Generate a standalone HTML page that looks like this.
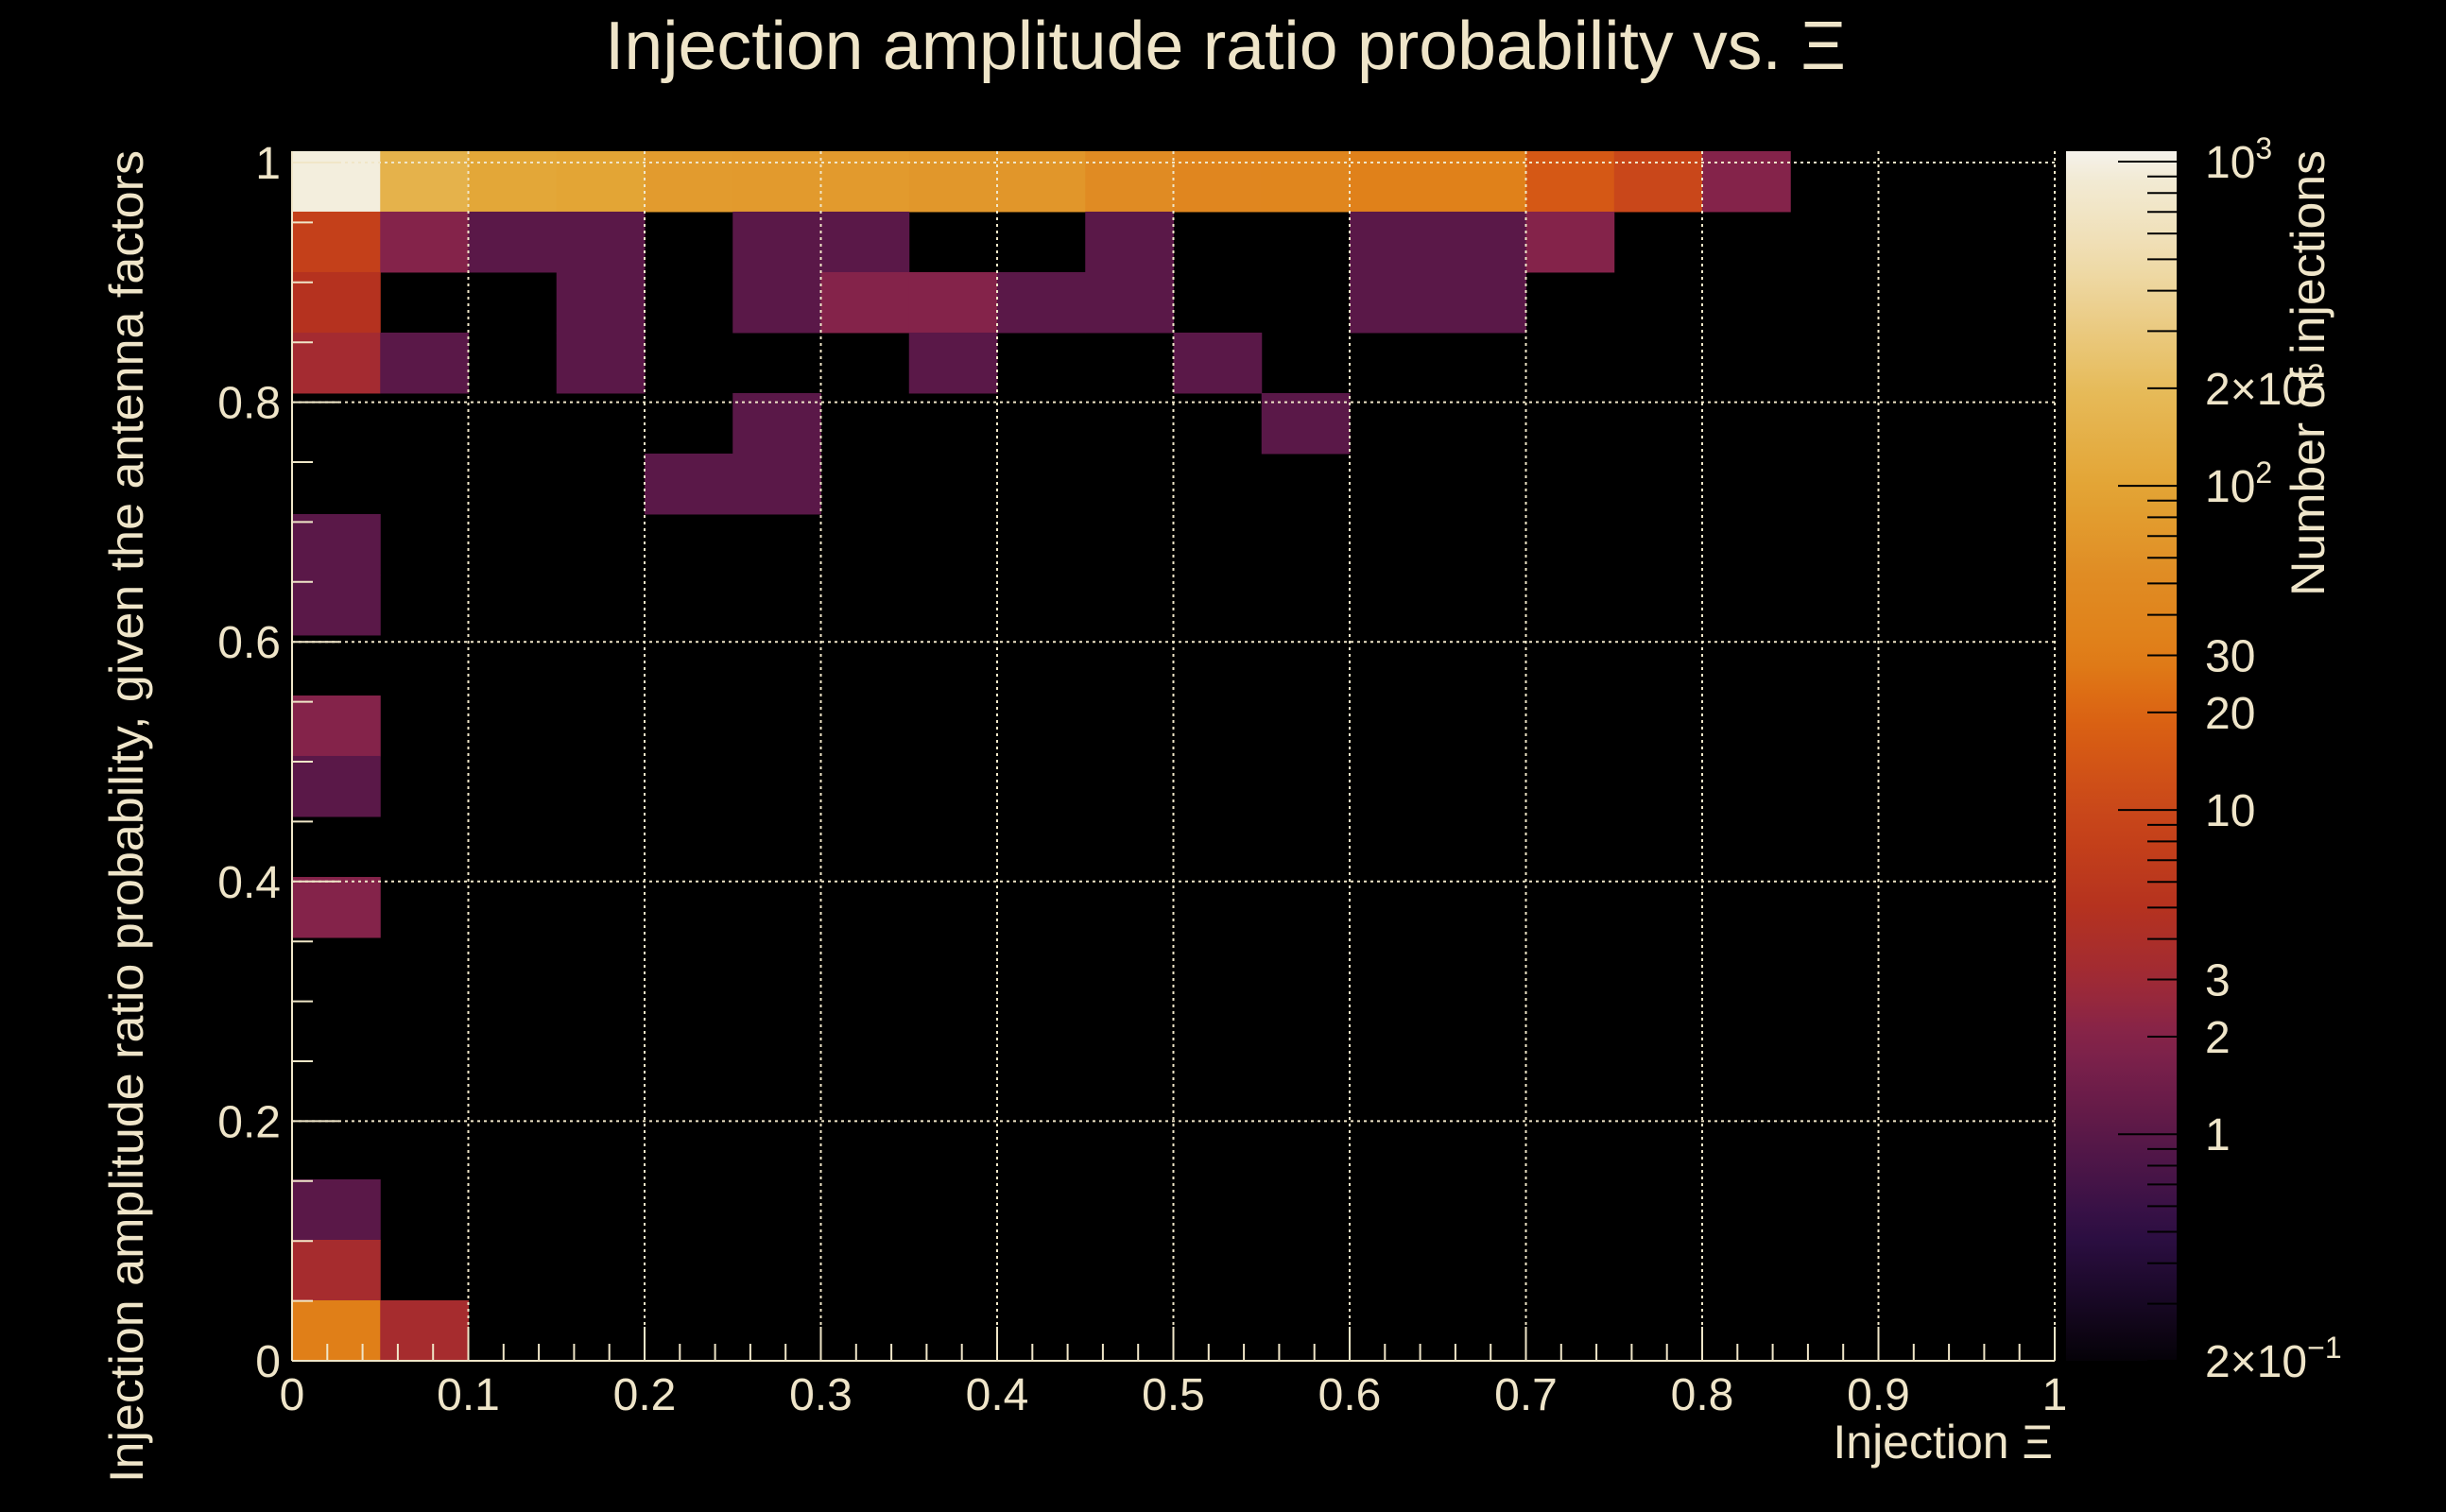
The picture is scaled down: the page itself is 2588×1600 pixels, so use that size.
<!DOCTYPE html>
<html><head><meta charset="utf-8"><style>
html,body{margin:0;padding:0;background:#000;}
svg{display:block;}
text{font-family:"Liberation Sans",sans-serif;fill:#efe5c9;}
</style></head><body>
<svg id="chart" width="2588" height="1600" viewBox="0 0 2588 1600" xmlns="http://www.w3.org/2000/svg">
<rect width="2588" height="1600" fill="#000"/>
<text x="640" y="73" font-size="72" textLength="1313" lengthAdjust="spacingAndGlyphs">Injection amplitude ratio probability vs.  Ξ</text>
<g id="cells"></g>
<g id="grid"></g>
<g id="axes"></g>
<g id="cbar"></g>
<text x="2172" y="1543" font-size="50" text-anchor="end">Injection Ξ</text>
<text transform="translate(151,159) rotate(-90)" font-size="50" text-anchor="end" textLength="1410" lengthAdjust="spacingAndGlyphs">Injection amplitude ratio probability, given the antenna factors</text>
<text transform="translate(2459,159) rotate(-90)" font-size="50" text-anchor="end" textLength="472" lengthAdjust="spacingAndGlyphs">Number of injections</text>
</svg>
<script>
// ---- data ----
const xBinCount = 20;
const yBinCount = 20;
// cells: [xBin, yBin, count]
const cellX = [0,1,2,3,4,5,6,7,8,9,10,11,12,13,14,15,16,
  0,1,2,3,5,6,9,12,13,14,
  0,3,5,6,7,8,9,12,13,
  0,1,3,7,10,
  5,11,
  4,5,
  0,0,
  0,0,
  0,
  0,0,0,1];
const cellY = [19,19,19,19,19,19,19,19,19,19,19,19,19,19,19,19,19,
  18,18,18,18,18,18,18,18,18,18,
  17,17,17,17,17,17,17,17,17,
  16,16,16,16,16,
  15,15,
  14,14,
  13,12,
  10,9,
  7,
  2,1,0,0];
const cellCount = [1000,150,105,100,78,76,75,70,68,52,42,41,33,33,15,10,2,
  8,2,1,1,1,1,1,1,1,2,
  5,1,1,2,2,1,1,1,1,
  3.3,1,1,1,1,
  1,1,
  1,1,
  1,1,
  2,1,
  2,
  1,3.5,30,3.5];
const xTickLabels = ["0","0.1","0.2","0.3","0.4","0.5","0.6","0.7","0.8","0.9","1"];
const xTickValues = [0,0.1,0.2,0.3,0.4,0.5,0.6,0.7,0.8,0.9,1];
const yTickLabels = ["0","0.2","0.4","0.6","0.8","1"];
const yTickValues = [0,0.2,0.4,0.6,0.8,1];
const zTickValues = [1000,200,100,30,20,10,3,2,1,0.2];
const zTickLabels = ["10|3","2×10|2","10|2","30","20","10","3","2","1","2×10|−1"];
const zMin = 0.2, zMax = 1077;
const yMaxBin = 1.0095;

// ---- scales ----
const X0=309, X1=2174, YB=1440, YPX=1268;
const sx = v => X0 + v*(X1-X0);
const sy = v => YB - v*YPX;
const CB_X0=2186, CB_X1=2303, CB_TOP=160, CB_BOT=1440;
const sz = v => CB_BOT - (Math.log10(v)-Math.log10(zMin))/(Math.log10(zMax)-Math.log10(zMin))*(CB_BOT-CB_TOP);

const stops = [[-0.699,"#050208"],[-0.3,"#2e0f45"],[0,"#5a1848"],[0.301,"#84234a"],[0.477,"#a02a35"],[0.7,"#b5321f"],[0.9,"#c4401a"],[1.0,"#c9471a"],[1.176,"#d55815"],[1.3,"#db6412"],[1.477,"#e07f18"],[1.7,"#e08a22"],[2.0,"#e3a535"],[2.3,"#e6bb5a"],[2.7,"#efdcae"],[3.0,"#f3eedd"],[3.04,"#f5f3ee"]];
function hex(c){return [1,3,5].map(i=>parseInt(c.substr(i,2),16));}
function cmap(v){
  const l=Math.log10(v);
  if(l<=stops[0][0]) return stops[0][1];
  for(let k=1;k<stops.length;k++){
    if(l<=stops[k][0]){
      const a=hex(stops[k-1][1]), b=hex(stops[k][1]);
      const t=(l-stops[k-1][0])/(stops[k][0]-stops[k-1][0]);
      return "rgb("+a.map((c,i)=>Math.round(c+(b[i]-c)*t)).join(",")+")";
    }
  }
  return stops[stops.length-1][1];
}
const NS="http://www.w3.org/2000/svg";
function mk(tag,attrs,parent){const e=document.createElementNS(NS,tag);for(const k in attrs)e.setAttribute(k,attrs[k]);parent.appendChild(e);return e;}

// cells
const cells=document.getElementById('cells');
const bw=1/xBinCount, bh=yMaxBin/yBinCount;
for(let k=0;k<cellX.length;k++){
  const x0=sx(cellX[k]*bw), x1=sx((cellX[k]+1)*bw);
  const y1=sy(cellY[k]*bh), y0=sy((cellY[k]+1)*bh);
  const r=mk('rect',{x:x0,y:y0,width:x1-x0+0.5,height:y1-y0+0.5,fill:cmap(cellCount[k])},cells);
  
  
}
// grid
const grid=document.getElementById('grid');
const gc="#f0e6c8";
xTickValues.forEach(v=>{ if(v>0){
  const l=mk('line',{x1:sx(v),x2:sx(v),y1:CB_TOP,y2:YB,stroke:gc,'stroke-width':2,'stroke-dasharray':'3 4'},grid);
  
  
}});
yTickValues.forEach(v=>{ if(v>0){
  const l=mk('line',{x1:X0,x2:X1,y1:sy(v),y2:sy(v),stroke:gc,'stroke-width':2,'stroke-dasharray':'3 4'},grid);
  
  
}});
// axes
const axes=document.getElementById('axes');
mk('line',{x1:X0,x2:X1,y1:YB,y2:YB,stroke:gc,'stroke-width':2},axes);
mk('line',{x1:X0,x2:X0,y1:CB_TOP,y2:YB,stroke:gc,'stroke-width':2},axes);
for(let i=0;i<=50;i++){
  const v=i*0.02, major=(i%5===0);
  mk('line',{x1:sx(v),x2:sx(v),y1:YB,y2:YB-(major?36:18),stroke:gc,'stroke-width':2},axes);
}
for(let i=0;i<=20;i++){
  const v=i*0.05, major=(i%4===0);
  mk('line',{x1:X0,x2:X0+(major?50:22),y1:sy(v),y2:sy(v),stroke:gc,'stroke-width':2},axes);
}
xTickValues.forEach((v,i)=>{
  const t=mk('text',{x:sx(v),y:1492,'font-size':48,'text-anchor':'middle'},axes);
  t.textContent=xTickLabels[i];
  
  
});
yTickValues.forEach((v,i)=>{
  const t=mk('text',{x:297,y:sy(v)+17,'font-size':48,'text-anchor':'end'},axes);
  t.textContent=yTickLabels[i];
  
  
});
// color bar
const cbar=document.getElementById('cbar');
const defs=mk('defs',{},cbar);
const grad=mk('linearGradient',{id:'cg',x1:0,y1:1,x2:0,y2:0},defs);
for(let k=0;k<=40;k++){
  const l=Math.log10(zMin)+k/40*(Math.log10(zMax)-Math.log10(zMin));
  mk('stop',{offset:k/40,'stop-color':cmap(Math.pow(10,l))},grad);
}
mk('rect',{x:CB_X0,y:CB_TOP,width:CB_X1-CB_X0,height:CB_BOT-CB_TOP,fill:'url(#cg)'},cbar);
[0.1,1,10,100,1000].forEach(d=>{
  for(let m=1;m<10;m++){
    const v=d*m; if(v<zMin||v>zMax) continue;
    mk('line',{x1:(m===1?2241:2272),x2:CB_X1,y1:sz(v),y2:sz(v),stroke:'#000','stroke-width':2},cbar);
  }
});
zTickValues.forEach((v,i)=>{
  const parts=zTickLabels[i].split('|');
  const t=mk('text',{x:2333,y:sz(v)+17,'font-size':48},cbar);
  
  
  const s1=mk('tspan',{},t); s1.textContent=parts[0];
  if(parts[1]){const s2=mk('tspan',{dy:-20,'font-size':32},t); s2.textContent=parts[1];}
});
</script>
</body></html>
